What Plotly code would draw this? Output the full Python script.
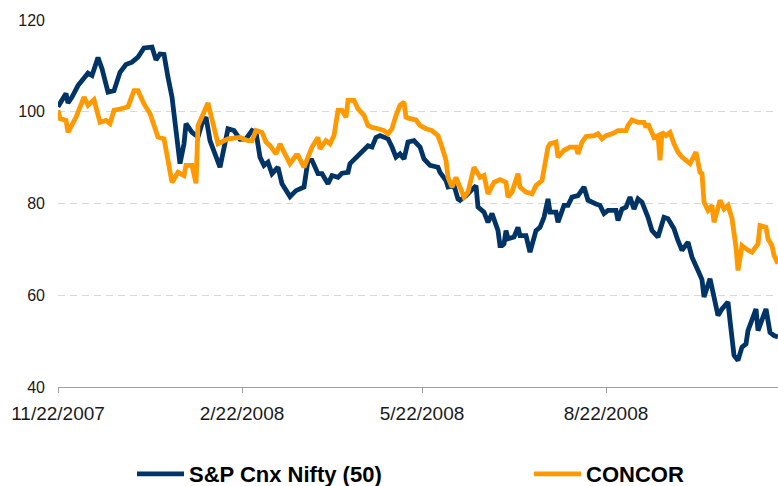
import datetime as dt
import plotly.graph_objects as go

start = dt.date(2007, 11, 22)

# Day offsets from 11/22/2007 and indexed values (rebased to ~100)
nifty_days = [0, 4, 5, 7, 10, 13, 15, 17, 20, 22, 25, 28, 31, 34, 37, 40, 43, 47, 49, 51,
              53, 55, 57, 59, 61, 63, 64, 67, 70, 72, 74, 76, 79, 81, 85, 88, 91, 94, 97, 99,
              101, 103, 105, 107, 110, 112, 116, 119, 123, 125, 127, 130, 132, 135, 137, 140, 142, 145, 146, 149,
              152, 155, 157, 159, 161, 165, 167, 169, 171, 173, 175, 178, 181, 183, 186, 190, 191, 194, 195, 198,
              200, 201, 204, 206, 209, 210, 213, 215, 217, 220, 221, 222, 223, 224, 225, 228, 230, 231, 234, 236,
              239, 241, 243, 245, 246, 249, 250, 253, 255, 257, 260, 263, 265, 269, 271, 273, 275, 279, 280, 282,
              284, 286, 288, 290, 292, 295, 297, 300, 303, 305, 308, 310, 312, 315, 317, 320, 322, 323, 326, 328,
              330, 332, 335, 336, 338, 340, 342, 344, 345, 349, 350, 354, 356, 358, 360]
nifty_vals = [101.1, 104.0, 101.9, 103.2, 105.7, 107.5, 108.4, 107.9, 111.8, 109.4, 104.3, 104.6, 108.6, 110.3, 110.8, 111.9, 113.9, 114.1, 111.3, 112.6,
              112.5, 107.5, 103.2, 95.9, 88.7, 93.0, 97.4, 95.5, 94.5, 97.4, 98.8, 93.7, 90.1, 87.9, 96.3, 95.9, 94.0, 94.1, 95.9, 95.5,
              90.1, 88.3, 89.0, 86.5, 87.9, 84.3, 81.5, 82.8, 83.6, 89.4, 89.4, 86.5, 86.5, 84.3, 86.1, 85.7, 86.6, 86.8, 88.7, 90.1,
              91.2, 92.6, 92.3, 94.4, 94.8, 94.1, 92.3, 90.1, 90.8, 89.7, 93.4, 93.7, 92.3, 89.7, 88.3, 87.9, 86.8, 85.0, 83.6, 83.9,
              81.0, 80.7, 81.7, 82.5, 83.9, 79.2, 78.1, 75.9, 77.8, 74.1, 70.8, 70.8, 71.2, 74.1, 72.3, 72.7, 74.8, 73.0, 73.0, 69.4,
              74.1, 74.8, 77.0, 81.0, 78.1, 78.1, 75.9, 79.6, 79.6, 81.4, 81.7, 83.6, 80.7, 79.9, 79.6, 77.8, 78.5, 78.5, 76.3, 78.8,
              79.2, 81.4, 78.8, 81.0, 80.3, 77.0, 74.1, 72.7, 77.0, 76.7, 74.5, 71.9, 69.8, 71.6, 68.3, 65.4, 63.4, 59.6, 63.6, 59.6,
              55.6, 57.0, 58.5, 54.5, 46.9, 45.8, 48.7, 49.4, 52.3, 57.0, 52.3, 57.0, 51.9, 51.2, 50.9]

concor_days = [0, 1, 4, 5, 9, 11, 13, 15, 18, 21, 24, 26, 28, 31, 35, 38, 40, 43, 46, 50,
               53, 55, 57, 60, 63, 64, 67, 69, 70, 75, 78, 80, 85, 91, 95, 97, 99, 102, 104, 106,
               109, 111, 113, 116, 119, 120, 123, 125, 127, 130, 131, 134, 136, 138, 140, 142, 144, 145, 148, 150,
               153, 155, 157, 160, 163, 165, 167, 169, 171, 173, 174, 176, 179, 181, 184, 187, 190, 192, 194, 195,
               197, 199, 201, 203, 205, 208, 210, 211, 213, 215, 218, 221, 224, 225, 227, 230, 231, 234, 237, 239,
               242, 245, 246, 249, 250, 253, 256, 259, 260, 262, 264, 268, 270, 272, 274, 277, 280, 284, 285, 287,
               290, 293, 294, 295, 298, 300, 301, 302, 304, 306, 308, 310, 312, 315, 316, 319, 321, 322, 323, 325,
               327, 328, 331, 333, 335, 337, 339, 340, 342, 345, 347, 350, 351, 354, 355, 357, 358, 360]
concor_vals = [100.3, 98.5, 98.1, 95.5, 98.8, 101.0, 103.2, 101.4, 102.6, 97.7, 98.1, 97.4, 100.3, 100.6, 101.1, 104.6, 104.6, 101.7, 99.6, 94.5,
               94.1, 89.4, 84.6, 86.8, 86.1, 88.3, 88.3, 84.4, 97.0, 101.9, 96.7, 93.0, 94.1, 94.4, 93.7, 93.7, 95.9, 95.5, 93.4, 92.6,
               90.8, 93.0, 91.2, 88.7, 90.5, 90.5, 87.9, 90.1, 92.3, 94.4, 91.9, 93.7, 93.0, 94.8, 100.3, 100.3, 98.8, 102.5, 102.5, 100.6,
               99.2, 97.0, 96.6, 96.3, 95.9, 95.2, 96.3, 99.2, 101.4, 102.1, 98.8, 98.5, 98.2, 97.0, 96.3, 95.9, 94.8, 92.3, 89.4, 85.7,
               83.6, 85.7, 83.6, 81.4, 82.5, 87.9, 86.5, 85.7, 86.1, 82.1, 84.6, 85.2, 84.6, 81.4, 82.5, 86.5, 83.6, 82.5, 82.1, 83.9,
               85.0, 92.3, 93.0, 93.4, 90.1, 91.6, 92.3, 92.3, 90.8, 93.4, 94.6, 94.8, 95.2, 94.1, 94.8, 95.2, 95.9, 95.9, 97.0, 98.2,
               97.7, 97.7, 96.6, 97.4, 94.4, 94.8, 89.4, 95.5, 94.8, 95.5, 93.0, 91.2, 90.1, 89.0, 88.7, 91.2, 86.8, 86.5, 80.3, 78.5,
               79.6, 75.9, 80.7, 78.8, 79.6, 76.7, 70.5, 65.4, 70.8, 69.8, 69.4, 71.2, 75.2, 74.8, 72.3, 70.8, 68.7, 66.9]

tick_dates = ["2007-11-22", "2008-02-22", "2008-05-22", "2008-08-22"]
tick_labels = ["11/22/2007", "2/22/2008", "5/22/2008", "8/22/2008"]
series_names = ["S&P Cnx Nifty (50)", "CONCOR"]

nifty_x = [start + dt.timedelta(days=d) for d in nifty_days]
concor_x = [start + dt.timedelta(days=d) for d in concor_days]

fig = go.Figure()
fig.add_trace(go.Scatter(x=nifty_x, y=nifty_vals, mode="lines", name=series_names[0],
                         line=dict(color="#003366", width=4.8), legend="legend"))
fig.add_trace(go.Scatter(x=concor_x, y=concor_vals, mode="lines", name=series_names[1],
                         line=dict(color="#FF9900", width=4.8), legend="legend2"))

FONT = "Arial, 'Liberation Sans', sans-serif"
L, T, W, H = 58, 20, 720, 367
legfont = dict(size=22, family=FONT, color="#000000", weight="bold")


def px_x(p):
    return (p - L) / W


def px_y(p):
    return (T + H - p) / H


fig.update_layout(
    width=778, height=486,
    margin=dict(l=L, r=778 - L - W, t=T, b=486 - T - H, autoexpand=False),
    paper_bgcolor="white", plot_bgcolor="white",
    font=dict(family=FONT, color="#1a1a1a"),
    showlegend=True,
    legend=dict(orientation="h", x=px_x(132), xanchor="left", y=px_y(474), yanchor="middle",
                font=legfont, itemwidth=47, bgcolor="rgba(0,0,0,0)"),
    legend2=dict(orientation="h", x=px_x(529), xanchor="left", y=px_y(474), yanchor="middle",
                 font=legfont, itemwidth=47, bgcolor="rgba(0,0,0,0)"),
    xaxis=dict(
        type="date", automargin=False,
        range=[start, start + dt.timedelta(days=360)],
        tickvals=tick_dates, ticktext=tick_labels,
        ticks="outside", ticklen=5, tickcolor="#A0A0A0", tickwidth=1,
        showline=True, linecolor="#A0A0A0", linewidth=1,
        showgrid=False, zeroline=False,
        tickfont=dict(size=19, family=FONT, color="#1a1a1a"),
        ticklabelstandoff=4,
    ),
    yaxis=dict(
        automargin=False,
        range=[40, 120], tickvals=[40, 60, 80, 100, 120],
        showgrid=True, gridcolor="#D9D9D9", gridwidth=1, griddash="7px,5px",
        zeroline=False, showline=False, ticks="",
        tickfont=dict(size=16, family=FONT, color="#1a1a1a"),
        ticklabelstandoff=12,
    ),
)

fig.write_html("out.html", config={"displayModeBar": False},
               post_script="document.body.style.margin='0';document.body.style.overflow='hidden';")
